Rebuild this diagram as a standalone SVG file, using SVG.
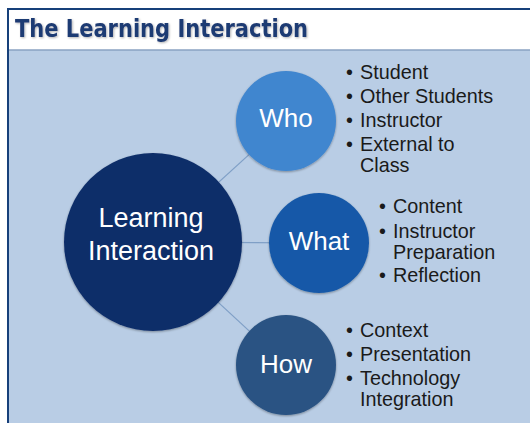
<svg xmlns="http://www.w3.org/2000/svg" width="530" height="423" viewBox="0 0 530 423">
<style>
.lbl{font-family:"Liberation Sans",Arial,sans-serif;fill:#ffffff;text-anchor:middle}
.blt{font-family:"Liberation Sans",Arial,sans-serif;font-size:19.8px;fill:#1a1a1a}
.conn{stroke:#7f9fc6;stroke-width:1.2;fill:none}
</style>
<defs>
<filter id="sh" x="-20%" y="-20%" width="140%" height="140%">
<feGaussianBlur in="SourceAlpha" stdDeviation="1.2"/>
<feOffset dx="0" dy="1" result="b"/>
<feFlood flood-color="#000" flood-opacity="0.35"/>
<feComposite in2="b" operator="in"/>
<feMerge><feMergeNode/><feMergeNode in="SourceGraphic"/></feMerge>
</filter>
<filter id="tsh" x="-5%" y="-20%" width="110%" height="150%">
<feGaussianBlur in="SourceAlpha" stdDeviation="0.8"/>
<feOffset dx="1" dy="1" result="b"/>
<feFlood flood-color="#000" flood-opacity="0.3"/>
<feComposite in2="b" operator="in"/>
<feMerge><feMergeNode/><feMergeNode in="SourceGraphic"/></feMerge>
</filter>
</defs>
<rect x="0" y="0" width="530" height="423" fill="#ffffff"/>
<rect x="8" y="50" width="522" height="373" fill="#b9cde5"/>
<rect x="8" y="10" width="522" height="40" fill="#ffffff"/>
<line x1="8" y1="50" x2="530" y2="50" stroke="#8aa2c2" stroke-width="1.5"/>
<line x1="7" y1="9" x2="530" y2="9" stroke="#17407a" stroke-width="2"/>
<line x1="8" y1="9" x2="8" y2="423" stroke="#17407a" stroke-width="2"/>
<text x="15" y="37" font-family="'DejaVu Sans',sans-serif" font-size="24" font-weight="bold" fill="#1f3a73" textLength="293" lengthAdjust="spacingAndGlyphs" filter="url(#tsh)">The Learning Interaction</text>
<g id="connectors">
<line class="conn" x1="153" y1="242" x2="286" y2="121"/>
<line class="conn" x1="153" y1="242" x2="319" y2="243"/>
<line class="conn" x1="153" y1="242" x2="286" y2="365"/>
</g>
<g id="center">
<circle cx="153" cy="242" r="89" fill="#0d2d69" filter="url(#sh)"/>
<text class="lbl" x="151" y="227" font-size="27">Learning</text>
<text class="lbl" x="151" y="260" font-size="27">Interaction</text>
</g>
<g id="who">
<circle cx="286" cy="121" r="50" fill="#4186cf" filter="url(#sh)"/>
<text class="lbl" x="286" y="127" font-size="26">Who</text>
<text class="blt" x="346" y="79">•</text><text class="blt" x="360" y="79">Student</text>
<text class="blt" x="346" y="103">•</text><text class="blt" x="360" y="103">Other Students</text>
<text class="blt" x="346" y="127">•</text><text class="blt" x="360" y="127">Instructor</text>
<text class="blt" x="346" y="151">•</text><text class="blt" x="360" y="151">External to</text>
<text class="blt" x="360" y="172">Class</text>
</g>
<g id="what">
<circle cx="319" cy="243" r="50" fill="#1659a8" filter="url(#sh)"/>
<text class="lbl" x="319" y="250" font-size="26">What</text>
<text class="blt" x="379" y="213">•</text><text class="blt" x="393" y="213">Content</text>
<text class="blt" x="379" y="238">•</text><text class="blt" x="393" y="238">Instructor</text>
<text class="blt" x="393" y="259">Preparation</text>
<text class="blt" x="379" y="282">•</text><text class="blt" x="393" y="282">Reflection</text>
</g>
<g id="how">
<circle cx="286" cy="365" r="50" fill="#2a5383" filter="url(#sh)"/>
<text class="lbl" x="286" y="373" font-size="26">How</text>
<text class="blt" x="346" y="337">•</text><text class="blt" x="360" y="337">Context</text>
<text class="blt" x="346" y="361">•</text><text class="blt" x="360" y="361">Presentation</text>
<text class="blt" x="346" y="385">•</text><text class="blt" x="360" y="385">Technology</text>
<text class="blt" x="360" y="406">Integration</text>
</g>
</svg>
